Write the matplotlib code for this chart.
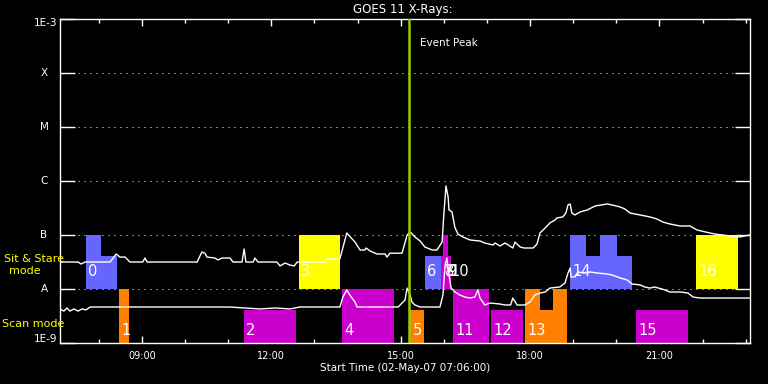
import matplotlib.pyplot as plt
from matplotlib.ticker import NullLocator

# GOES 11 long channel (1-8 A), time in hours of 02-May-07, flux in W/m^2
long_t = [7.10, 7.52, 7.59, 7.68, 8.26, 8.35, 8.40, 8.49, 8.61, 8.72, 9.02, 9.07, 9.12,
          10.28, 10.39, 10.46, 10.51, 10.69, 10.76, 10.86, 11.04, 11.11, 11.32, 11.37,
          11.41, 11.58, 11.62, 11.69, 12.13, 12.20, 12.32, 12.43, 12.53, 12.60, 13.24,
          13.29, 13.59, 13.75, 13.94, 14.06, 14.17, 14.20, 14.29, 14.45, 14.64, 14.68,
          14.75, 15.03, 15.15, 15.22, 15.33, 15.45, 15.56, 15.73, 15.84, 15.96, 16.00,
          16.05, 16.10, 16.12, 16.19, 16.26, 16.33, 16.44, 16.61, 16.84, 16.95, 17.14,
          17.19, 17.30, 17.42, 17.53, 17.60, 17.65, 17.77, 17.86, 18.07, 18.16, 18.23,
          18.35, 18.46, 18.58, 18.62, 18.76, 18.83, 18.88, 18.93, 18.97, 19.04, 19.16,
          19.32, 19.51, 19.78, 19.90, 20.09, 20.20, 20.32, 20.55, 20.78, 20.94, 21.08,
          21.24, 21.48, 21.71, 21.87, 22.06, 22.29, 22.64, 22.87, 22.98, 23.10]
long_flux = [3.16e-8, 3.16e-8, 2.9e-8, 3.16e-8, 3.16e-8, 3.9e-8, 4.45e-8, 3.9e-8, 3.9e-8,
             3.16e-8, 3.16e-8, 3.75e-8, 3.16e-8, 3.16e-8, 4.85e-8, 4.6e-8, 3.9e-8, 3.75e-8,
             3.45e-8, 3.75e-8, 3.75e-8, 3.16e-8, 3.16e-8, 5.5e-8, 3.16e-8, 3.16e-8, 3.75e-8,
             3.16e-8, 3.16e-8, 2.67e-8, 3.03e-8, 2.78e-8, 2.67e-8, 3.16e-8, 3.16e-8, 3.6e-8,
             3.6e-8, 1.09e-7, 7.4e-8, 5.27e-8, 5.27e-8, 5.74e-8, 5.06e-8, 4.45e-8, 4.45e-8,
             3.9e-8, 4.6e-8, 4.6e-8, 1.0e-7, 1.14e-7, 9.2e-8, 7.74e-8, 6.0e-8, 5.27e-8,
             5.27e-8, 7.4e-8, 2.35e-7, 8.1e-7, 5.06e-7, 2.9e-7, 2.67e-7, 1.35e-7, 1.04e-7,
             9.2e-8, 8.08e-8, 7.74e-8, 7.1e-8, 6.53e-8, 7.1e-8, 6.25e-8, 7.1e-8, 6.25e-8,
             5.74e-8, 7.4e-8, 6.0e-8, 5.74e-8, 5.74e-8, 6.8e-8, 1.09e-7, 1.35e-7, 1.67e-7,
             1.9e-7, 2.07e-7, 2.16e-7, 2.55e-7, 3.6e-7, 3.75e-7, 2.55e-7, 2.35e-7, 2.67e-7,
             2.9e-7, 3.44e-7, 3.75e-7, 3.6e-7, 3.3e-7, 3.03e-7, 2.55e-7, 2.35e-7, 2.16e-7,
             1.98e-7, 1.74e-7, 1.6e-7, 1.47e-7, 1.47e-7, 1.24e-7, 1.14e-7, 1.04e-7, 9.6e-8,
             9.2e-8, 9.6e-8, 1.0e-7]

# GOES 11 short channel (0.5-4 A)
short_t = [7.10, 7.19, 7.26, 7.33, 7.42, 7.52, 7.61, 7.70, 7.80, 8.49, 11.04, 11.74, 12.09,
           12.43, 12.66, 13.59, 13.66, 13.75, 13.82, 13.94, 13.99, 14.94, 15.10, 15.15,
           15.22, 15.26, 15.33, 15.45, 15.91, 15.98, 16.03, 16.07, 16.12, 16.17, 16.26,
           16.37, 16.49, 16.61, 16.72, 16.79, 16.84, 16.95, 17.07, 17.30, 17.42, 17.55,
           17.60, 17.70, 17.88, 18.00, 18.11, 18.23, 18.35, 18.46, 18.69, 18.81, 18.88,
           18.93, 18.95, 19.04, 19.11, 19.23, 19.39, 19.55, 19.78, 19.90, 20.09, 20.25,
           20.36, 20.55, 20.66, 20.78, 20.89, 21.13, 21.24, 21.48, 21.66, 21.78, 21.94, 23.10]
short_flux = [4.27e-9, 3.9e-9, 4.45e-9, 3.9e-9, 4.27e-9, 3.9e-9, 4.27e-9, 4.1e-9, 4.64e-9,
              4.64e-9, 4.64e-9, 4.27e-9, 4.45e-9, 4.27e-9, 4.64e-9, 4.64e-9, 7.1e-9, 9.6e-9,
              7.74e-9, 5.74e-9, 4.64e-9, 4.64e-9, 6.25e-9, 1.04e-8, 7.74e-9, 5.74e-9, 5.06e-9,
              4.64e-9, 4.64e-9, 7.74e-9, 2.8e-8, 3.75e-8, 1.82e-8, 1.04e-8, 8.8e-9, 7.74e-9,
              7.1e-9, 6.8e-9, 7.1e-9, 9.6e-9, 6.8e-9, 5.06e-9, 5.5e-9, 5.27e-9, 5.06e-9,
              5.06e-9, 6.8e-9, 5.06e-9, 5.06e-9, 5.74e-9, 7.74e-9, 8.43e-9, 8.8e-9, 1.04e-8,
              1.09e-8, 1.29e-8, 1.98e-8, 2.45e-8, 1.67e-8, 1.67e-8, 2.07e-8, 1.98e-8, 2.07e-8,
              1.98e-8, 1.9e-8, 1.82e-8, 1.6e-8, 1.47e-8, 1.24e-8, 1.19e-8, 1.09e-8, 1.04e-8,
              1.09e-8, 9.6e-9, 8.8e-9, 8.8e-9, 8.43e-9, 7.1e-9, 6.8e-9, 6.8e-9]

# observation blocks (some are drawn in several steps)
seg_num = [0, 0, 1, 2, 3, 4, 5, 6, 7, 8, 9, 10, 11, 12, 13, 13, 13, 14, 14, 14, 14, 15, 16]
seg_start = [7.70, 8.05, 8.47, 11.37, 12.64, 13.64, 15.22, 15.56, 15.94, 15.98, 16.03, 16.10,
             16.21, 17.09, 17.88, 18.23, 18.53, 18.93, 19.30, 19.62, 20.02, 20.46, 21.85]
seg_end = [8.05, 8.42, 8.70, 12.57, 13.59, 14.85, 15.54, 15.94, 15.98, 16.03, 16.10, 16.17,
           17.05, 17.84, 18.23, 18.53, 18.86, 19.30, 19.62, 20.02, 20.36, 21.66, 22.82]
seg_top = [1e-7, 4.1e-8, 1e-8, 4.1e-9, 1e-7, 1e-8, 4.1e-9, 4.1e-8, 4.1e-8, 1e-7, 1e-7, 4.1e-8,
           1e-8, 4.1e-9, 1e-8, 4.1e-9, 1e-8, 1e-7, 4.1e-8, 1e-7, 4.1e-8, 4.1e-9, 1e-7]

block_start = [7.70, 8.47, 11.37, 12.64, 13.64, 15.22, 15.56, 15.94, 15.98, 16.03, 16.10,
               16.21, 17.09, 17.88, 18.93, 20.46, 21.85]
block_mode = ['sit', 'scan', 'scan', 'sit', 'scan', 'scan', 'sit', 'sit', 'sit', 'sit', 'sit',
              'scan', 'scan', 'scan', 'sit', 'scan', 'sit']
block_color = ['#6666ff', '#ff8000', '#cc00cc', '#ffff00', '#cc00cc', '#ff8000', '#6666ff',
               '#cc00cc', '#cc00cc', '#cc00cc', '#cc00cc', '#cc00cc', '#cc00cc', '#ff8000',
               '#6666ff', '#cc00cc', '#ffff00']

event_peak = 15.19
levels = [1e-9, 1e-8, 1e-7, 1e-6, 1e-5, 1e-4, 1e-3]
level_names = ['1E-9', 'A', 'B', 'C', 'M', 'X', '1E-3']
hour_ticks = [9, 12, 15, 18, 21]
hour_labels = ['09:00', '12:00', '15:00', '18:00', '21:00']

fig = plt.figure(figsize=(7.68, 3.84), dpi=100, facecolor='black')
ax = fig.add_axes([60 / 768, 41 / 384, 690 / 768, 324 / 384])
ax.set_facecolor('black')
ax.set_yscale('log')
ax.set_xlim(7.1, 23.1)
ax.set_ylim(1e-9, 1e-3)

# dotted class levels
for lv in levels[1:-1]:
    ax.axhline(lv, color='white', lw=0.72, ls=(0, (1, 5)), zorder=1)

for i in range(len(seg_num)):
    n = seg_num[i]
    bottom = 1e-8 if block_mode[n] == 'sit' else 1e-9
    ax.bar(seg_start[i], seg_top[i] - bottom, width=seg_end[i] - seg_start[i], bottom=bottom,
           align='edge', color=block_color[n], linewidth=0, zorder=2)

ax.plot(long_t, long_flux, color='white', lw=1.0, zorder=3)
ax.plot(short_t, short_flux, color='white', lw=1.0, zorder=3)

for n in range(len(block_start)):
    y = 2.07e-8 if block_mode[n] == 'sit' else 1.74e-9
    ax.text(block_start[n] + 0.05, y, str(n), color='white', fontsize=10.5,
            ha='left', va='center', zorder=4)

ax.axvline(event_peak, color='#99cc00', lw=1.8, zorder=5)
ax.text(event_peak + 0.25, 10 ** -3.45, 'Event Peak', color='white', fontsize=7.5,
        ha='left', va='center')

# axes styling
for sp in ax.spines.values():
    sp.set_color('white')
    sp.set_linewidth(1.0)
ax.set_xticks(hour_ticks)
ax.set_xticklabels(hour_labels)
ax.set_xticks(range(8, 24), minor=True)
ax.tick_params(axis='x', which='major', direction='in', top=True, bottom=True, length=5,
               width=1, colors='white', labelsize=7, pad=6)
ax.tick_params(axis='x', which='minor', direction='in', top=True, bottom=True, length=3,
               width=1, colors='white')
ax.set_yticks(levels)
ax.set_yticklabels([])
ax.yaxis.set_minor_locator(NullLocator())
ax.tick_params(axis='y', which='major', direction='in', left=True, right=True, length=10.8,
               width=1, colors='white')

for lv, name in zip(levels, level_names):
    if name.startswith('1E'):
        yy = lv * 10 ** (-4 / 54) if lv > 1e-4 else lv * 10 ** (4 / 54)
        ax.text(-0.004, yy, name, transform=ax.get_yaxis_transform(), color='white',
                fontsize=7.5, ha='right', va='center')
    else:
        ax.text(-16 / 690, lv, name, transform=ax.get_yaxis_transform(), color='white',
                fontsize=7.5, ha='center', va='center')

fig.text(34 / 768, 1 - 259 / 384, 'Sit & Stare', color='#ffff00', fontsize=8,
         ha='center', va='center')
fig.text(25 / 768, 1 - 271 / 384, 'mode', color='#ffff00', fontsize=8,
         ha='center', va='center')
fig.text(2 / 768, 1 - 324 / 384, 'Scan mode', color='#ffff00', fontsize=8,
         ha='left', va='center')

fig.text(403 / 768, 1 - 10 / 384, 'GOES 11 X-Rays:', color='white', fontsize=8.5,
         ha='center', va='center')
fig.text(405 / 768, 1 - 368 / 384, 'Start Time (02-May-07 07:06:00)', color='white',
         fontsize=7.5, ha='center', va='center')

fig.savefig('out.png', dpi=100, facecolor='black')
